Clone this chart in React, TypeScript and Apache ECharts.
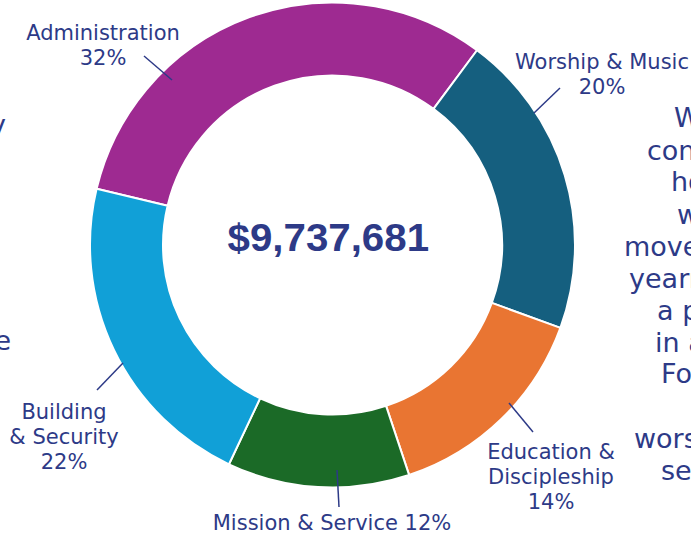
import React, { useEffect, useRef } from "react";
import * as echarts from "echarts";

// ---- Data (estimated budget amounts per category, USD) ----
const categories = [
  "Administration",
  "Worship & Music",
  "Education & Discipleship",
  "Mission & Service",
  "Building & Security",
];
const budgetAmounts = [3061500, 1985500, 1395400, 1182100, 2113181];
const labelNames = [
  "Administration\n",
  "Worship & Music\n",
  "Education &\nDiscipleship\n",
  "Mission & Service ",
  "Building\n& Security\n",
];
const totalBudget = 9737681;
const rightParagraphFragments = ["W", "con", "ho", "w", "move", "yearn", "a p", "in a", "Fo", "wors", "se"];
const leftParagraphFragments = ["y", "e"];

// ---- Styles / layout ----
const sliceColors = ["#9E2A91", "#155F7F", "#E97532", "#1B6A27", "#11A0D7"];
const navy = "#2D3A87";
const labelAnchors = [
  [103, 45.5],
  [602, 74.5],
  [551, 476.5],
  [332, 523],
  [64, 436.5],
];
const leaderLines = [
  [172, 80, 144, 56],
  [534, 113, 560, 88],
  [509, 403, 533, 432],
  [337, 470, 339, 507],
  [123, 363, 97, 390],
];
const rightFragPos = [
  [674, 117], [647, 150], [671, 181], [677, 214], [624, 246], [629, 278],
  [657, 310], [655, 342], [661, 373], [634, 438], [661, 470],
];
const leftFragPos = [
  [6, 124],
  [11, 340],
];

export default function App() {
  const ref = useRef<HTMLDivElement>(null);
  useEffect(() => {
    if (!ref.current) return;
    const chart = echarts.init(ref.current, null, { renderer: "svg" });
    const graphics: any[] = [
      {
        type: "text",
        x: 328.3,
        y: 237.5,
        scaleX: 1.06,
        z: 10,
        style: {
          text: "$" + totalBudget.toLocaleString("en-US"),
          fill: navy,
          font: "bold 38px 'Liberation Sans', Arial, sans-serif",
          textAlign: "center",
          textVerticalAlign: "middle",
        },
      },
    ];
    leaderLines.forEach((l) => {
      graphics.push({
        type: "line",
        z: 100,
        shape: { x1: l[0], y1: l[1], x2: l[2], y2: l[3] },
        style: { stroke: navy, lineWidth: 1.5 },
      });
    });
    rightParagraphFragments.forEach((t, i) => {
      graphics.push({
        type: "text",
        x: rightFragPos[i][0],
        y: rightFragPos[i][1],
        style: {
          text: t,
          fill: navy,
          font: "27px 'DejaVu Sans', Verdana, sans-serif",
          textAlign: "left",
          textVerticalAlign: "middle",
        },
      });
    });
    leftParagraphFragments.forEach((t, i) => {
      graphics.push({
        type: "text",
        x: leftFragPos[i][0],
        y: leftFragPos[i][1],
        style: {
          text: t,
          fill: navy,
          font: "27px 'DejaVu Sans', Verdana, sans-serif",
          textAlign: "right",
          textVerticalAlign: "middle",
        },
      });
    });

    chart.setOption({
      animation: false,
      backgroundColor: "#ffffff",
      graphic: graphics,
      series: [
        {
          type: "pie",
          center: [332.5, 245],
          radius: [169.5, 242.5],
          startAngle: 166.6,
          clockwise: true,
          avoidLabelOverlap: false,
          percentPrecision: 0,
          silent: true,
          itemStyle: { borderColor: "#ffffff", borderWidth: 2 },
          label: {
            show: true,
            position: "outside",
            color: navy,
            fontFamily: "'DejaVu Sans', Verdana, sans-serif",
            fontSize: 21,
            lineHeight: 25,
            width: 260,
            overflow: "none",
            align: "center",
            formatter: (p: any) => labelNames[p.dataIndex] + p.percent + "%",
          },
          labelLine: { show: false },
          labelLayout: (params: any) => {
            const i = params.dataIndex;
            return {
              x: labelAnchors[i][0],
              y: labelAnchors[i][1],
              align: "center",
              verticalAlign: "middle",
            };
          },
          data: categories.map((name, i) => ({
            name,
            value: budgetAmounts[i],
            itemStyle: { color: sliceColors[i] },
          })),
        },
      ],
    });
    return () => chart.dispose();
  }, []);
  return (
    <div
      ref={ref}
      style={{ position: "absolute", left: 0, top: 0, width: 691, height: 535 }}
    />
  );
}
